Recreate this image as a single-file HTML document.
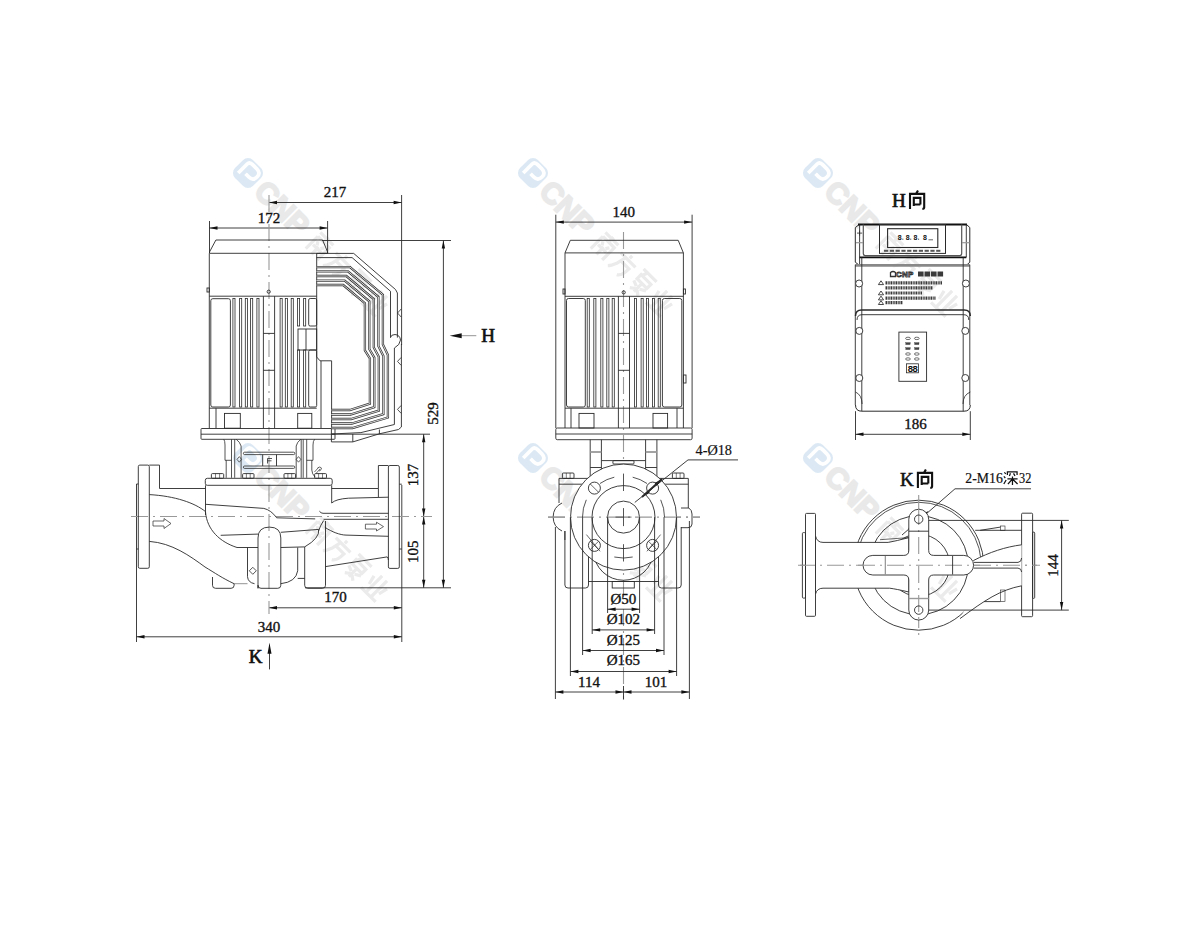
<!DOCTYPE html>
<html><head><meta charset="utf-8"><style>
html,body{margin:0;padding:0;background:#fff;overflow:hidden;}
svg{display:block;}
</style></head><body>
<svg width="1200" height="950" viewBox="0 0 1200 950">
<rect width="1200" height="950" fill="#fff"/>
<g transform="translate(248,173) rotate(45) scale(1.15)"><rect x="-11" y="-11" width="22" height="22" rx="6" fill="#dce9f4"/><path d="M-6,6 L-6,-5 Q-6,-8 -2,-8 L3,-8 Q8,-8 8,-3 Q8,2 3,2 L-1,2" fill="none" stroke="#fff" stroke-width="3.2"/><text x="15" y="9.5" font-family="Liberation Sans" font-weight="bold" font-size="26" fill="#e9e9e9" stroke="#e9e9e9" stroke-width="1.6">CNP</text><path transform="translate(79,-10)" d="M2,2 L18,2 M10,0 L10,5 M3,6 L17,6 L17,21 M3,6 L3,21 M6,9 L8,12 M14,9 L12,12 M5,14 L15,14 M10,12 L10,21" fill="none" stroke="#ebebeb" stroke-width="2.8"/><path transform="translate(102,-10)" d="M10,0 L10,3 M1,5 L19,5 M7,5 L5,14 Q3,19 1,21 M7,10 L16,10 Q16,19 12,21" fill="none" stroke="#ebebeb" stroke-width="2.8"/><path transform="translate(125,-10)" d="M2,1 L18,1 M7,1 L5,6 M4,6 L16,6 L16,11 L4,11 Z M10,12 L10,21 M3,14 L8,16 M17,13 L12,16 M5,21 L9,18 M15,21 L11,18" fill="none" stroke="#ebebeb" stroke-width="2.8"/><path transform="translate(148,-10)" d="M7,0 L7,19 M13,0 L13,19 M2,5 L4,13 M18,5 L16,13 M1,20 L19,20" fill="none" stroke="#ebebeb" stroke-width="2.8"/></g>
<g transform="translate(533,173) rotate(45) scale(1.15)"><rect x="-11" y="-11" width="22" height="22" rx="6" fill="#dce9f4"/><path d="M-6,6 L-6,-5 Q-6,-8 -2,-8 L3,-8 Q8,-8 8,-3 Q8,2 3,2 L-1,2" fill="none" stroke="#fff" stroke-width="3.2"/><text x="15" y="9.5" font-family="Liberation Sans" font-weight="bold" font-size="26" fill="#e9e9e9" stroke="#e9e9e9" stroke-width="1.6">CNP</text><path transform="translate(79,-10)" d="M2,2 L18,2 M10,0 L10,5 M3,6 L17,6 L17,21 M3,6 L3,21 M6,9 L8,12 M14,9 L12,12 M5,14 L15,14 M10,12 L10,21" fill="none" stroke="#ebebeb" stroke-width="2.8"/><path transform="translate(102,-10)" d="M10,0 L10,3 M1,5 L19,5 M7,5 L5,14 Q3,19 1,21 M7,10 L16,10 Q16,19 12,21" fill="none" stroke="#ebebeb" stroke-width="2.8"/><path transform="translate(125,-10)" d="M2,1 L18,1 M7,1 L5,6 M4,6 L16,6 L16,11 L4,11 Z M10,12 L10,21 M3,14 L8,16 M17,13 L12,16 M5,21 L9,18 M15,21 L11,18" fill="none" stroke="#ebebeb" stroke-width="2.8"/><path transform="translate(148,-10)" d="M7,0 L7,19 M13,0 L13,19 M2,5 L4,13 M18,5 L16,13 M1,20 L19,20" fill="none" stroke="#ebebeb" stroke-width="2.8"/></g>
<g transform="translate(818,173) rotate(45) scale(1.15)"><rect x="-11" y="-11" width="22" height="22" rx="6" fill="#dce9f4"/><path d="M-6,6 L-6,-5 Q-6,-8 -2,-8 L3,-8 Q8,-8 8,-3 Q8,2 3,2 L-1,2" fill="none" stroke="#fff" stroke-width="3.2"/><text x="15" y="9.5" font-family="Liberation Sans" font-weight="bold" font-size="26" fill="#e9e9e9" stroke="#e9e9e9" stroke-width="1.6">CNP</text><path transform="translate(79,-10)" d="M2,2 L18,2 M10,0 L10,5 M3,6 L17,6 L17,21 M3,6 L3,21 M6,9 L8,12 M14,9 L12,12 M5,14 L15,14 M10,12 L10,21" fill="none" stroke="#ebebeb" stroke-width="2.8"/><path transform="translate(102,-10)" d="M10,0 L10,3 M1,5 L19,5 M7,5 L5,14 Q3,19 1,21 M7,10 L16,10 Q16,19 12,21" fill="none" stroke="#ebebeb" stroke-width="2.8"/><path transform="translate(125,-10)" d="M2,1 L18,1 M7,1 L5,6 M4,6 L16,6 L16,11 L4,11 Z M10,12 L10,21 M3,14 L8,16 M17,13 L12,16 M5,21 L9,18 M15,21 L11,18" fill="none" stroke="#ebebeb" stroke-width="2.8"/><path transform="translate(148,-10)" d="M7,0 L7,19 M13,0 L13,19 M2,5 L4,13 M18,5 L16,13 M1,20 L19,20" fill="none" stroke="#ebebeb" stroke-width="2.8"/></g>
<g transform="translate(248,458) rotate(45) scale(1.15)"><rect x="-11" y="-11" width="22" height="22" rx="6" fill="#dce9f4"/><path d="M-6,6 L-6,-5 Q-6,-8 -2,-8 L3,-8 Q8,-8 8,-3 Q8,2 3,2 L-1,2" fill="none" stroke="#fff" stroke-width="3.2"/><text x="15" y="9.5" font-family="Liberation Sans" font-weight="bold" font-size="26" fill="#e9e9e9" stroke="#e9e9e9" stroke-width="1.6">CNP</text><path transform="translate(79,-10)" d="M2,2 L18,2 M10,0 L10,5 M3,6 L17,6 L17,21 M3,6 L3,21 M6,9 L8,12 M14,9 L12,12 M5,14 L15,14 M10,12 L10,21" fill="none" stroke="#ebebeb" stroke-width="2.8"/><path transform="translate(102,-10)" d="M10,0 L10,3 M1,5 L19,5 M7,5 L5,14 Q3,19 1,21 M7,10 L16,10 Q16,19 12,21" fill="none" stroke="#ebebeb" stroke-width="2.8"/><path transform="translate(125,-10)" d="M2,1 L18,1 M7,1 L5,6 M4,6 L16,6 L16,11 L4,11 Z M10,12 L10,21 M3,14 L8,16 M17,13 L12,16 M5,21 L9,18 M15,21 L11,18" fill="none" stroke="#ebebeb" stroke-width="2.8"/><path transform="translate(148,-10)" d="M7,0 L7,19 M13,0 L13,19 M2,5 L4,13 M18,5 L16,13 M1,20 L19,20" fill="none" stroke="#ebebeb" stroke-width="2.8"/></g>
<g transform="translate(533,458) rotate(45) scale(1.15)"><rect x="-11" y="-11" width="22" height="22" rx="6" fill="#dce9f4"/><path d="M-6,6 L-6,-5 Q-6,-8 -2,-8 L3,-8 Q8,-8 8,-3 Q8,2 3,2 L-1,2" fill="none" stroke="#fff" stroke-width="3.2"/><text x="15" y="9.5" font-family="Liberation Sans" font-weight="bold" font-size="26" fill="#e9e9e9" stroke="#e9e9e9" stroke-width="1.6">CNP</text><path transform="translate(79,-10)" d="M2,2 L18,2 M10,0 L10,5 M3,6 L17,6 L17,21 M3,6 L3,21 M6,9 L8,12 M14,9 L12,12 M5,14 L15,14 M10,12 L10,21" fill="none" stroke="#ebebeb" stroke-width="2.8"/><path transform="translate(102,-10)" d="M10,0 L10,3 M1,5 L19,5 M7,5 L5,14 Q3,19 1,21 M7,10 L16,10 Q16,19 12,21" fill="none" stroke="#ebebeb" stroke-width="2.8"/><path transform="translate(125,-10)" d="M2,1 L18,1 M7,1 L5,6 M4,6 L16,6 L16,11 L4,11 Z M10,12 L10,21 M3,14 L8,16 M17,13 L12,16 M5,21 L9,18 M15,21 L11,18" fill="none" stroke="#ebebeb" stroke-width="2.8"/><path transform="translate(148,-10)" d="M7,0 L7,19 M13,0 L13,19 M2,5 L4,13 M18,5 L16,13 M1,20 L19,20" fill="none" stroke="#ebebeb" stroke-width="2.8"/></g>
<g transform="translate(818,458) rotate(45) scale(1.15)"><rect x="-11" y="-11" width="22" height="22" rx="6" fill="#dce9f4"/><path d="M-6,6 L-6,-5 Q-6,-8 -2,-8 L3,-8 Q8,-8 8,-3 Q8,2 3,2 L-1,2" fill="none" stroke="#fff" stroke-width="3.2"/><text x="15" y="9.5" font-family="Liberation Sans" font-weight="bold" font-size="26" fill="#e9e9e9" stroke="#e9e9e9" stroke-width="1.6">CNP</text><path transform="translate(79,-10)" d="M2,2 L18,2 M10,0 L10,5 M3,6 L17,6 L17,21 M3,6 L3,21 M6,9 L8,12 M14,9 L12,12 M5,14 L15,14 M10,12 L10,21" fill="none" stroke="#ebebeb" stroke-width="2.8"/><path transform="translate(102,-10)" d="M10,0 L10,3 M1,5 L19,5 M7,5 L5,14 Q3,19 1,21 M7,10 L16,10 Q16,19 12,21" fill="none" stroke="#ebebeb" stroke-width="2.8"/><path transform="translate(125,-10)" d="M2,1 L18,1 M7,1 L5,6 M4,6 L16,6 L16,11 L4,11 Z M10,12 L10,21 M3,14 L8,16 M17,13 L12,16 M5,21 L9,18 M15,21 L11,18" fill="none" stroke="#ebebeb" stroke-width="2.8"/><path transform="translate(148,-10)" d="M7,0 L7,19 M13,0 L13,19 M2,5 L4,13 M18,5 L16,13 M1,20 L19,20" fill="none" stroke="#ebebeb" stroke-width="2.8"/></g>
<line x1="209.5" y1="221.0" x2="209.5" y2="253.0" stroke="#2a2a2a" stroke-width="0.9" />
<line x1="327.6" y1="221.0" x2="327.6" y2="253.0" stroke="#2a2a2a" stroke-width="0.9" />
<line x1="209.5" y1="228.0" x2="327.6" y2="228.0" stroke="#2a2a2a" stroke-width="0.9" />
<polygon points="209.5,228.0 217.5,226.3 217.5,229.7" fill="#111"/>
<polygon points="327.6,228.0 319.6,229.7 319.6,226.3" fill="#111"/>
<text x="269" y="222.5" font-family="Liberation Serif" font-size="15" text-anchor="middle" font-weight="normal" fill="#111" stroke="#111" stroke-width="0.35">172</text>
<line x1="401.6" y1="195.0" x2="401.6" y2="345.0" stroke="#2a2a2a" stroke-width="0.9" />
<line x1="269.0" y1="202.5" x2="401.6" y2="202.5" stroke="#2a2a2a" stroke-width="0.9" />
<polygon points="269.0,202.5 277.0,200.8 277.0,204.2" fill="#111"/>
<polygon points="401.6,202.5 393.6,204.2 393.6,200.8" fill="#111"/>
<text x="335" y="197" font-family="Liberation Serif" font-size="15" text-anchor="middle" font-weight="normal" fill="#111" stroke="#111" stroke-width="0.35">217</text>
<line x1="322.0" y1="240.5" x2="451.0" y2="240.5" stroke="#2a2a2a" stroke-width="0.9" />
<line x1="443.4" y1="240.5" x2="443.4" y2="587.8" stroke="#2a2a2a" stroke-width="0.9" />
<polygon points="443.4,240.5 445.1,248.5 441.7,248.5" fill="#111"/>
<polygon points="443.4,587.8 441.7,579.8 445.1,579.8" fill="#111"/>
<text x="438.5" y="413.6" font-family="Liberation Serif" font-size="15" text-anchor="middle" font-weight="normal" fill="#111" transform="rotate(-90 438.5 413.6)" stroke="#111" stroke-width="0.35">529</text>
<line x1="331.4" y1="434.2" x2="430.0" y2="434.2" stroke="#2a2a2a" stroke-width="0.9" />
<line x1="423.7" y1="434.2" x2="423.7" y2="587.8" stroke="#2a2a2a" stroke-width="0.9" />
<polygon points="423.7,434.2 425.4,442.2 422.0,442.2" fill="#111"/>
<polygon points="423.7,516.5 422.0,508.5 425.4,508.5" fill="#111"/>
<polygon points="423.7,516.5 425.4,524.5 422.0,524.5" fill="#111"/>
<polygon points="423.7,587.8 422.0,579.8 425.4,579.8" fill="#111"/>
<text x="418" y="475" font-family="Liberation Serif" font-size="15" text-anchor="middle" font-weight="normal" fill="#111" transform="rotate(-90 418 475)" stroke="#111" stroke-width="0.35">137</text>
<text x="418" y="551.8" font-family="Liberation Serif" font-size="15" text-anchor="middle" font-weight="normal" fill="#111" transform="rotate(-90 418 551.8)" stroke="#111" stroke-width="0.35">105</text>
<line x1="305.0" y1="587.8" x2="451.0" y2="587.8" stroke="#2a2a2a" stroke-width="0.9" />
<line x1="401.8" y1="485.0" x2="401.8" y2="642.0" stroke="#2a2a2a" stroke-width="0.9" />
<line x1="136.5" y1="484.0" x2="136.5" y2="642.0" stroke="#2a2a2a" stroke-width="0.9" />
<line x1="269.0" y1="607.8" x2="401.8" y2="607.8" stroke="#2a2a2a" stroke-width="0.9" />
<polygon points="269.0,607.8 277.0,606.1 277.0,609.5" fill="#111"/>
<polygon points="401.8,607.8 393.8,609.5 393.8,606.1" fill="#111"/>
<text x="335.4" y="602.2" font-family="Liberation Serif" font-size="15" text-anchor="middle" font-weight="normal" fill="#111" stroke="#111" stroke-width="0.35">170</text>
<line x1="136.5" y1="636.8" x2="401.8" y2="636.8" stroke="#2a2a2a" stroke-width="0.9" />
<polygon points="136.5,636.8 144.5,635.1 144.5,638.5" fill="#111"/>
<polygon points="401.8,636.8 393.8,638.5 393.8,635.1" fill="#111"/>
<text x="269" y="631.5" font-family="Liberation Serif" font-size="15" text-anchor="middle" font-weight="normal" fill="#111" stroke="#111" stroke-width="0.35">340</text>
<line x1="269.5" y1="645.0" x2="269.5" y2="669.4" stroke="#2a2a2a" stroke-width="0.9" />
<polygon points="269.5,642.8 271.5,653.8 267.5,653.8" fill="#111"/>
<text x="255.5" y="663.4" font-family="Liberation Serif" font-size="19" text-anchor="middle" font-weight="normal" fill="#111" stroke="#111" stroke-width="0.7">K</text>
<line x1="459.0" y1="335.7" x2="476.3" y2="335.7" stroke="#888" stroke-width="0.9" />
<polygon points="449.7,335.7 461.7,333.2 461.7,338.2" fill="#111"/>
<text x="488" y="341.6" font-family="Liberation Serif" font-size="19" text-anchor="middle" font-weight="normal" fill="#111" stroke="#111" stroke-width="0.7">H</text>
<line x1="269.0" y1="195.0" x2="269.0" y2="614.0" stroke="#999" stroke-width="1.1" stroke-dasharray="17 5 2 5"/>
<line x1="131.0" y1="516.5" x2="432.0" y2="516.5" stroke="#999" stroke-width="1.1" stroke-dasharray="17 5 2 5"/>
<polygon points="215.9,240.0 322.6,240.0 327.6,252.0 327.6,253.3 209.5,253.3 209.5,252.0" fill="none" stroke="#2a2a2a" stroke-width="0.9"/>
<polyline points="209.3,253.3 209.3,428.2" fill="none" stroke="#2a2a2a" stroke-width="0.9"/>
<polyline points="316.7,253.3 316.7,357.0 320.0,360.8 331.6,360.8 331.6,428.5" fill="none" stroke="#2a2a2a" stroke-width="0.9"/>
<line x1="321.0" y1="361.0" x2="321.0" y2="428.0" stroke="#2a2a2a" stroke-width="0.9" />
<line x1="209.3" y1="296.2" x2="316.7" y2="296.2" stroke="#2a2a2a" stroke-width="0.9" />
<line x1="209.3" y1="408.2" x2="316.7" y2="408.2" stroke="#2a2a2a" stroke-width="0.9" />
<rect x="207.0" y="288.0" width="2.3" height="4.0" rx="0" fill="none" stroke="#2a2a2a" stroke-width="0.9"/>
<circle cx="268.7" cy="291.7" r="1.6" fill="none" stroke="#2a2a2a" stroke-width="0.9" />
<rect x="210.8" y="298.7" width="19.6" height="108.3" rx="2" fill="none" stroke="#2a2a2a" stroke-width="0.9"/>
<rect x="232.9" y="298.5" width="2.1" height="108.5" rx="0" fill="none" stroke="#2a2a2a" stroke-width="0.8"/>
<rect x="239.6" y="298.5" width="2.1" height="108.5" rx="0" fill="none" stroke="#2a2a2a" stroke-width="0.8"/>
<rect x="245.3" y="298.5" width="2.1" height="108.5" rx="0" fill="none" stroke="#2a2a2a" stroke-width="0.8"/>
<rect x="250.6" y="298.5" width="2.1" height="108.5" rx="0" fill="none" stroke="#2a2a2a" stroke-width="0.8"/>
<rect x="256.9" y="298.5" width="2.1" height="108.5" rx="0" fill="none" stroke="#2a2a2a" stroke-width="0.8"/>
<rect x="280.1" y="298.5" width="2.1" height="108.5" rx="0" fill="none" stroke="#2a2a2a" stroke-width="0.8"/>
<rect x="285.3" y="298.5" width="2.1" height="108.5" rx="0" fill="none" stroke="#2a2a2a" stroke-width="0.8"/>
<rect x="291.2" y="298.5" width="2.1" height="108.5" rx="0" fill="none" stroke="#2a2a2a" stroke-width="0.8"/>
<rect x="297.5" y="298.5" width="2.1" height="27.5" rx="0" fill="none" stroke="#2a2a2a" stroke-width="0.8"/>
<rect x="297.5" y="350.0" width="2.1" height="57.0" rx="0" fill="none" stroke="#2a2a2a" stroke-width="0.8"/>
<rect x="303.6" y="298.5" width="2.1" height="27.5" rx="0" fill="none" stroke="#2a2a2a" stroke-width="0.8"/>
<rect x="303.6" y="350.0" width="2.1" height="57.0" rx="0" fill="none" stroke="#2a2a2a" stroke-width="0.8"/>
<rect x="308.7" y="298.5" width="8.0" height="27.5" rx="1.5" fill="none" stroke="#2a2a2a" stroke-width="0.9"/>
<rect x="308.7" y="350.0" width="8.0" height="57.0" rx="1.5" fill="none" stroke="#2a2a2a" stroke-width="0.9"/>
<rect x="298.0" y="329.0" width="18.7" height="21.0" rx="0" fill="none" stroke="#2a2a2a" stroke-width="0.9"/>
<line x1="306.0" y1="329.0" x2="306.0" y2="350.0" stroke="#2a2a2a" stroke-width="0.9" />
<line x1="263.4" y1="296.2" x2="263.4" y2="428.2" stroke="#2a2a2a" stroke-width="0.9" />
<line x1="274.6" y1="296.2" x2="274.6" y2="428.2" stroke="#2a2a2a" stroke-width="0.9" />
<line x1="263.4" y1="333.4" x2="274.6" y2="333.4" stroke="#2a2a2a" stroke-width="0.9" />
<line x1="263.4" y1="370.3" x2="274.6" y2="370.3" stroke="#2a2a2a" stroke-width="0.9" />
<rect x="224.5" y="413.4" width="15.8" height="14.8" rx="0" fill="none" stroke="#2a2a2a" stroke-width="0.9"/>
<rect x="297.7" y="413.4" width="14.1" height="14.8" rx="0" fill="none" stroke="#2a2a2a" stroke-width="0.9"/>
<line x1="216.0" y1="408.2" x2="216.0" y2="428.2" stroke="#2a2a2a" stroke-width="0.9" />
<rect x="201.0" y="428.5" width="134.0" height="10.8" rx="0.8" fill="none" stroke="#2a2a2a" stroke-width="0.9"/>
<line x1="201.0" y1="434.2" x2="335.0" y2="434.2" stroke="#2a2a2a" stroke-width="0.9" />
<polyline points="316.5,253.4 353.7,253.4 395.5,289.5 397.4,293.0 397.4,337.6" fill="none" stroke="#2a2a2a" stroke-width="0.9"/>
<polyline points="316.5,257.6 352.1,257.6 390.5,291.3 390.5,337.6" fill="none" stroke="#2a2a2a" stroke-width="0.9"/>
<path d="M390.5,337.6 Q391,334.5 395,334.5 Q400,335 400.5,340 Q400,345 394.4,348" fill="none" stroke="#2a2a2a" stroke-width="0.9"/>
<polyline points="401.4,344.0 401.4,427.0 398.5,429.5 379.4,433.8 352.8,441.9 331.4,441.9 331.4,428.0" fill="none" stroke="#2a2a2a" stroke-width="0.9"/>
<polyline points="394.4,348.0 394.4,424.5 360.9,432.6 331.4,434.0" fill="none" stroke="#2a2a2a" stroke-width="0.9"/>
<line x1="352.8" y1="434.0" x2="352.8" y2="441.9" stroke="#2a2a2a" stroke-width="0.9" />
<line x1="379.4" y1="429.5" x2="379.4" y2="434.0" stroke="#2a2a2a" stroke-width="0.9" />
<polyline points="316.5,285.0 343.2,285.0 364.9,303.2 364.9,350.4 369.9,358.5 369.9,403.7 349.9,410.0 331.4,410.0" fill="none" stroke="#333" stroke-width="2.3"/>
<polyline points="316.5,285.0 343.2,285.0 364.9,303.2 364.9,350.4 369.9,358.5 369.9,403.7 349.9,410.0 331.4,410.0" fill="none" stroke="#fff" stroke-width="0.8"/>
<polyline points="316.5,280.6 344.7,280.6 369.3,301.3 369.3,349.0 374.3,357.6 374.3,407.2 350.5,414.5 331.4,414.5" fill="none" stroke="#333" stroke-width="2.3"/>
<polyline points="316.5,280.6 344.7,280.6 369.3,301.3 369.3,349.0 374.3,357.6 374.3,407.2 350.5,414.5 331.4,414.5" fill="none" stroke="#fff" stroke-width="0.8"/>
<polyline points="316.5,276.0 346.3,276.0 373.8,299.1 373.8,347.5 378.8,356.8 378.8,410.7 351.1,419.0 331.4,419.0" fill="none" stroke="#333" stroke-width="2.3"/>
<polyline points="316.5,276.0 346.3,276.0 373.8,299.1 373.8,347.5 378.8,356.8 378.8,410.7 351.1,419.0 331.4,419.0" fill="none" stroke="#fff" stroke-width="0.8"/>
<polyline points="316.5,271.3 347.9,271.3 378.4,296.9 378.4,346.0 383.4,355.9 383.4,414.1 351.8,423.5 331.4,423.5" fill="none" stroke="#333" stroke-width="2.3"/>
<polyline points="316.5,271.3 347.9,271.3 378.4,296.9 378.4,346.0 383.4,355.9 383.4,414.1 351.8,423.5 331.4,423.5" fill="none" stroke="#fff" stroke-width="0.8"/>
<polyline points="316.5,267.1 350.0,267.1 382.9,294.7 382.9,344.6 387.9,355.0 387.9,417.5 352.5,428.0 331.4,428.0" fill="none" stroke="#333" stroke-width="2.3"/>
<polyline points="316.5,267.1 350.0,267.1 382.9,294.7 382.9,344.6 387.9,355.0 387.9,417.5 352.5,428.0 331.4,428.0" fill="none" stroke="#fff" stroke-width="0.8"/>
<path d="M401.2,309 L397.5,313 L401.2,317" fill="none" stroke="#2a2a2a" stroke-width="0.8"/>
<path d="M401.2,357.4 L397.5,361.4 L401.2,365.4" fill="none" stroke="#2a2a2a" stroke-width="0.8"/>
<path d="M401.2,405.4 L397.5,409.4 L401.2,413.4" fill="none" stroke="#2a2a2a" stroke-width="0.8"/>
<path d="M223.8,439.3 Q225,441 225,445 L225,460.3 L231.5,460.3 M226.2,460.3 L226.2,477.8" fill="none" stroke="#2a2a2a" stroke-width="0.8"/>
<line x1="231.5" y1="439.3" x2="231.5" y2="477.8" stroke="#2a2a2a" stroke-width="0.8" />
<line x1="234.7" y1="439.3" x2="234.7" y2="477.8" stroke="#2a2a2a" stroke-width="0.8" />
<path d="M236.2,439.3 Q240,442 241.1,446 L241.1,477.8" fill="none" stroke="#2a2a2a" stroke-width="0.8"/>
<path d="M296.2,477.8 L296.2,446 Q297,442 300.8,439.3" fill="none" stroke="#2a2a2a" stroke-width="0.8"/>
<line x1="301.2" y1="439.3" x2="301.2" y2="477.8" stroke="#2a2a2a" stroke-width="0.8" />
<line x1="303.2" y1="439.3" x2="303.2" y2="477.8" stroke="#2a2a2a" stroke-width="0.8" />
<line x1="306.7" y1="439.3" x2="306.7" y2="477.8" stroke="#2a2a2a" stroke-width="0.8" />
<path d="M314.6,439.3 Q313,441 313,445 L313,460.3 L306.7,460.3 M311.8,460.3 L311.8,470 Q312,474 315,477" fill="none" stroke="#2a2a2a" stroke-width="0.8"/>
<rect x="243.4" y="452.2" width="51.4" height="2.4" rx="1.2" fill="none" stroke="#2a2a2a" stroke-width="0.8"/>
<rect x="243.4" y="466.0" width="51.4" height="2.4" rx="1.2" fill="none" stroke="#2a2a2a" stroke-width="0.8"/>
<line x1="262.7" y1="454.6" x2="262.7" y2="466.0" stroke="#2a2a2a" stroke-width="0.9" />
<line x1="276.5" y1="454.6" x2="276.5" y2="466.0" stroke="#2a2a2a" stroke-width="0.9" />
<path d="M267.5,463.5 L267.5,458.5 L272,458.5 M267.5,460.8 L271.5,460.8" fill="none" stroke="#2a2a2a" stroke-width="0.8"/>
<path d="M239.3,456.6 L241.6,459.4 L239.3,462.2 L237,459.4 Z" fill="none" stroke="#2a2a2a" stroke-width="0.7"/>
<path d="M298.5,456.6 L300.8,459.4 L298.5,462.2 L296.2,459.4 Z" fill="none" stroke="#2a2a2a" stroke-width="0.7"/>
<path d="M314.5,472 L318.5,467.5 M316,473.5 L320,469 M317.5,468 Q320,466 321.5,468 Q321,471 319,471" fill="none" stroke="#2a2a2a" stroke-width="0.7"/>
<rect x="211.4" y="473.6" width="12.3" height="4.7" rx="1" fill="none" stroke="#2a2a2a" stroke-width="0.9"/>
<line x1="215.5" y1="473.6" x2="215.5" y2="478.3" stroke="#2a2a2a" stroke-width="0.6" />
<line x1="219.6" y1="473.6" x2="219.6" y2="478.3" stroke="#2a2a2a" stroke-width="0.6" />
<rect x="242.6" y="473.6" width="11.4" height="4.7" rx="1" fill="none" stroke="#2a2a2a" stroke-width="0.9"/>
<line x1="246.4" y1="473.6" x2="246.4" y2="478.3" stroke="#2a2a2a" stroke-width="0.6" />
<line x1="250.2" y1="473.6" x2="250.2" y2="478.3" stroke="#2a2a2a" stroke-width="0.6" />
<rect x="284.0" y="473.6" width="11.6" height="4.7" rx="1" fill="none" stroke="#2a2a2a" stroke-width="0.9"/>
<line x1="287.9" y1="473.6" x2="287.9" y2="478.3" stroke="#2a2a2a" stroke-width="0.6" />
<line x1="291.7" y1="473.6" x2="291.7" y2="478.3" stroke="#2a2a2a" stroke-width="0.6" />
<rect x="314.6" y="473.6" width="11.9" height="4.7" rx="1" fill="none" stroke="#2a2a2a" stroke-width="0.9"/>
<line x1="318.6" y1="473.6" x2="318.6" y2="478.3" stroke="#2a2a2a" stroke-width="0.6" />
<line x1="322.5" y1="473.6" x2="322.5" y2="478.3" stroke="#2a2a2a" stroke-width="0.6" />
<rect x="205.3" y="478.3" width="126.9" height="7.0" rx="2" fill="none" stroke="#2a2a2a" stroke-width="0.9"/>
<line x1="205.5" y1="485.3" x2="205.5" y2="515.0" stroke="#2a2a2a" stroke-width="0.9" />
<line x1="331.7" y1="485.3" x2="331.7" y2="503.0" stroke="#2a2a2a" stroke-width="0.9" />
<path d="M205.5,504.3 L263.8,508.4 Q271,510 276.7,517.8 L315.2,518.9" fill="none" stroke="#2a2a2a" stroke-width="0.9"/>
<path d="M205.5,512 C207,530 220,542 237,547.5 L258,547.5" fill="none" stroke="#2a2a2a" stroke-width="0.9"/>
<path d="M220.7,535.3 L258,534.1 M280.8,532.3 L318.7,529.4" fill="none" stroke="#2a2a2a" stroke-width="0.9"/>
<path d="M318.7,529.4 Q320,538 304.7,546.9 L280.8,547.5" fill="none" stroke="#2a2a2a" stroke-width="0.9"/>
<path d="M247.5,547.5 L247.5,576.7 Q248,582.5 254.5,583.7" fill="none" stroke="#2a2a2a" stroke-width="0.9"/>
<path d="M252.8,567.3 L256.3,570.8 L252.8,574.3 L249.3,570.8 Z" fill="none" stroke="#2a2a2a" stroke-width="0.8"/>
<path d="M258,588.3 L258,538 Q258,527.1 269.4,527.1 Q280.8,527.1 280.8,538 L280.8,585.3 Q280.8,588.3 277.8,588.3 L261,588.3 Q258,588.3 258,585.3 Z" fill="none" stroke="#2a2a2a" stroke-width="0.9"/>
<path d="M297.7,547.5 L297.7,570.8 Q296,582 280.8,583.7" fill="none" stroke="#2a2a2a" stroke-width="0.9"/>
<line x1="297.7" y1="578.4" x2="304.7" y2="578.4" stroke="#2a2a2a" stroke-width="0.9" />
<path d="M304.7,546.9 L304.7,585.3 Q304.7,588.3 307.7,588.3 L322.5,588.3 Q325.5,588.3 325.5,585.3 L325.5,521" fill="none" stroke="#2a2a2a" stroke-width="0.9"/>
<line x1="234.1" y1="583.7" x2="247.5" y2="583.7" stroke="#888" stroke-width="0.9" />
<rect x="138.3" y="465.1" width="11.0" height="103.2" rx="1.5" fill="none" stroke="#2a2a2a" stroke-width="0.9"/>
<polyline points="149.3,465.1 159.5,465.1 159.5,488.5 205.5,488.5" fill="none" stroke="#2a2a2a" stroke-width="0.9"/>
<line x1="136.5" y1="484.0" x2="138.3" y2="484.0" stroke="#2a2a2a" stroke-width="0.9" />
<line x1="136.5" y1="549.0" x2="138.3" y2="549.0" stroke="#2a2a2a" stroke-width="0.9" />
<path d="M149.3,494.6 C175,496 195,503 205.5,511.6" fill="none" stroke="#2a2a2a" stroke-width="0.9"/>
<path d="M149.3,541.4 C172,543 190,556 205,567 C215,573 222,578 234.1,583.7" fill="none" stroke="#2a2a2a" stroke-width="0.9"/>
<path d="M212.5,577 L212.5,585.3 Q212.5,588.3 215.5,588.3 L231.1,588.3 Q234.1,588.3 234.1,585.3 L234.1,583.7" fill="none" stroke="#2a2a2a" stroke-width="0.9"/>
<path d="M153,521 L164,521 L164,518.5 L171,523.5 L164,528.5 L164,526 L153,526 Z" fill="none" stroke="#2a2a2a" stroke-width="0.7"/>
<rect x="388.4" y="465.5" width="10.9" height="102.9" rx="1.5" fill="none" stroke="#2a2a2a" stroke-width="0.9"/>
<polyline points="331.7,488.5 378.4,488.5 378.4,465.5 388.4,465.5" fill="none" stroke="#2a2a2a" stroke-width="0.9"/>
<line x1="378.4" y1="488.5" x2="378.4" y2="497.2" stroke="#2a2a2a" stroke-width="0.9" />
<line x1="399.3" y1="484.2" x2="401.8" y2="484.2" stroke="#2a2a2a" stroke-width="0.9" />
<line x1="399.3" y1="549.0" x2="401.8" y2="549.0" stroke="#2a2a2a" stroke-width="0.9" />
<path d="M331.7,503 Q336,499 348.4,498.2 L388.4,497.2" fill="none" stroke="#2a2a2a" stroke-width="0.9"/>
<path d="M319.4,511.2 Q321,513.3 323,513.3 L388.4,513.3" fill="none" stroke="#2a2a2a" stroke-width="0.9"/>
<line x1="323.6" y1="519.3" x2="388.4" y2="519.3" stroke="#2a2a2a" stroke-width="0.9" />
<path d="M323.6,520.6 Q320,526 318.7,530.8" fill="none" stroke="#2a2a2a" stroke-width="0.9"/>
<path d="M324.8,527.2 C332,532 340,535 346,535.1 L388.4,536.3" fill="none" stroke="#2a2a2a" stroke-width="0.9"/>
<path d="M325.5,566.6 L387.2,556.9 Q388.4,558 388.4,560" fill="none" stroke="#2a2a2a" stroke-width="0.9"/>
<path d="M365.4,524.2 L376.5,524.2 L376.5,522.2 L383.5,526.6 L376.5,531 L376.5,529 L365.4,529 Z" fill="none" stroke="#2a2a2a" stroke-width="0.7"/>
<line x1="555.8" y1="214.7" x2="555.8" y2="428.0" stroke="#2a2a2a" stroke-width="0.9" />
<line x1="692.1" y1="214.7" x2="692.1" y2="428.0" stroke="#2a2a2a" stroke-width="0.9" />
<line x1="555.8" y1="222.1" x2="692.1" y2="222.1" stroke="#2a2a2a" stroke-width="0.9" />
<polygon points="555.8,222.1 563.8,220.4 563.8,223.8" fill="#111"/>
<polygon points="692.1,222.1 684.1,223.8 684.1,220.4" fill="#111"/>
<text x="623.7" y="216.6" font-family="Liberation Serif" font-size="15" text-anchor="middle" font-weight="normal" fill="#111" stroke="#111" stroke-width="0.35">140</text>
<line x1="623.5" y1="232.0" x2="623.5" y2="700.0" stroke="#999" stroke-width="1.1" stroke-dasharray="17 5 2 5"/>
<line x1="548.0" y1="517.1" x2="700.0" y2="517.1" stroke="#999" stroke-width="1.1" stroke-dasharray="17 5 2 5"/>
<polygon points="570.3,240.3 678.2,240.3 683.4,252.9 565.0,252.9" fill="none" stroke="#2a2a2a" stroke-width="0.9"/>
<line x1="565.0" y1="252.9" x2="565.0" y2="428.0" stroke="#2a2a2a" stroke-width="0.9" />
<line x1="683.4" y1="252.9" x2="683.4" y2="428.0" stroke="#2a2a2a" stroke-width="0.9" />
<line x1="565.0" y1="296.3" x2="683.4" y2="296.3" stroke="#2a2a2a" stroke-width="0.9" />
<line x1="565.0" y1="408.2" x2="683.4" y2="408.2" stroke="#2a2a2a" stroke-width="0.9" />
<rect x="563.0" y="289.0" width="2.0" height="5.0" rx="0" fill="none" stroke="#2a2a2a" stroke-width="0.9"/>
<rect x="683.4" y="289.0" width="2.0" height="5.0" rx="0" fill="none" stroke="#2a2a2a" stroke-width="0.9"/>
<rect x="683.4" y="375.0" width="2.6" height="8.0" rx="0" fill="none" stroke="#2a2a2a" stroke-width="0.9"/>
<circle cx="623.7" cy="292.4" r="1.6" fill="none" stroke="#2a2a2a" stroke-width="0.9" />
<rect x="566.5" y="298.5" width="18.8" height="108.5" rx="2" fill="none" stroke="#2a2a2a" stroke-width="0.9"/>
<rect x="662.4" y="298.5" width="19.4" height="108.5" rx="2" fill="none" stroke="#2a2a2a" stroke-width="0.9"/>
<rect x="587.2" y="298.5" width="2.1" height="108.5" rx="0" fill="none" stroke="#2a2a2a" stroke-width="0.8"/>
<rect x="593.8" y="298.5" width="2.1" height="108.5" rx="0" fill="none" stroke="#2a2a2a" stroke-width="0.8"/>
<rect x="600.8" y="298.5" width="2.1" height="108.5" rx="0" fill="none" stroke="#2a2a2a" stroke-width="0.8"/>
<rect x="606.8" y="298.5" width="2.1" height="108.5" rx="0" fill="none" stroke="#2a2a2a" stroke-width="0.8"/>
<rect x="612.2" y="298.5" width="2.1" height="108.5" rx="0" fill="none" stroke="#2a2a2a" stroke-width="0.8"/>
<rect x="634.5" y="298.5" width="2.1" height="108.5" rx="0" fill="none" stroke="#2a2a2a" stroke-width="0.8"/>
<rect x="641.1" y="298.5" width="2.1" height="108.5" rx="0" fill="none" stroke="#2a2a2a" stroke-width="0.8"/>
<rect x="646.4" y="298.5" width="2.1" height="108.5" rx="0" fill="none" stroke="#2a2a2a" stroke-width="0.8"/>
<rect x="652.4" y="298.5" width="2.1" height="108.5" rx="0" fill="none" stroke="#2a2a2a" stroke-width="0.8"/>
<rect x="658.2" y="298.5" width="2.1" height="108.5" rx="0" fill="none" stroke="#2a2a2a" stroke-width="0.8"/>
<line x1="618.4" y1="296.3" x2="618.4" y2="428.0" stroke="#2a2a2a" stroke-width="0.9" />
<line x1="629.5" y1="296.3" x2="629.5" y2="428.0" stroke="#2a2a2a" stroke-width="0.9" />
<line x1="618.4" y1="333.4" x2="629.5" y2="333.4" stroke="#2a2a2a" stroke-width="0.9" />
<line x1="618.4" y1="370.3" x2="629.5" y2="370.3" stroke="#2a2a2a" stroke-width="0.9" />
<rect x="579.0" y="413.4" width="15.0" height="14.6" rx="0" fill="none" stroke="#2a2a2a" stroke-width="0.9"/>
<rect x="653.0" y="413.4" width="14.6" height="14.6" rx="0" fill="none" stroke="#2a2a2a" stroke-width="0.9"/>
<line x1="571.0" y1="408.2" x2="571.0" y2="428.0" stroke="#2a2a2a" stroke-width="0.9" />
<line x1="677.0" y1="408.2" x2="677.0" y2="428.0" stroke="#2a2a2a" stroke-width="0.9" />
<rect x="555.8" y="428.0" width="136.3" height="11.7" rx="1.5" fill="none" stroke="#2a2a2a" stroke-width="0.9"/>
<line x1="555.8" y1="434.0" x2="692.1" y2="434.0" stroke="#2a2a2a" stroke-width="0.9" />
<line x1="590.2" y1="439.7" x2="590.2" y2="478.4" stroke="#2a2a2a" stroke-width="0.9" />
<line x1="601.4" y1="439.7" x2="601.4" y2="478.4" stroke="#2a2a2a" stroke-width="0.9" />
<line x1="645.6" y1="439.7" x2="645.6" y2="478.4" stroke="#2a2a2a" stroke-width="0.9" />
<line x1="656.9" y1="439.7" x2="656.9" y2="478.4" stroke="#2a2a2a" stroke-width="0.9" />
<line x1="590.2" y1="452.0" x2="601.4" y2="452.0" stroke="#999" stroke-width="1.8" />
<line x1="645.6" y1="452.0" x2="656.9" y2="452.0" stroke="#999" stroke-width="1.8" />
<line x1="590.2" y1="467.5" x2="601.4" y2="467.5" stroke="#2a2a2a" stroke-width="0.9" />
<line x1="645.6" y1="467.5" x2="656.9" y2="467.5" stroke="#2a2a2a" stroke-width="0.9" />
<line x1="601.6" y1="460.6" x2="645.5" y2="460.6" stroke="#2a2a2a" stroke-width="0.9" />
<rect x="612.9" y="460.6" width="21.1" height="3.4" rx="1" fill="none" stroke="#2a2a2a" stroke-width="0.9"/>
<rect x="562.4" y="473.0" width="11.6" height="5.4" rx="1" fill="none" stroke="#2a2a2a" stroke-width="0.9"/>
<line x1="566.3" y1="473.0" x2="566.3" y2="478.4" stroke="#2a2a2a" stroke-width="0.6" />
<line x1="570.1" y1="473.0" x2="570.1" y2="478.4" stroke="#2a2a2a" stroke-width="0.6" />
<rect x="672.4" y="473.0" width="11.6" height="5.4" rx="1" fill="none" stroke="#2a2a2a" stroke-width="0.9"/>
<line x1="676.3" y1="473.0" x2="676.3" y2="478.4" stroke="#2a2a2a" stroke-width="0.6" />
<line x1="680.1" y1="473.0" x2="680.1" y2="478.4" stroke="#2a2a2a" stroke-width="0.6" />
<polyline points="559.0,503.0 559.0,478.4 688.3,478.4 688.3,508.0" fill="none" stroke="#2a2a2a" stroke-width="0.9"/>
<line x1="559.0" y1="484.2" x2="688.3" y2="484.2" stroke="#2a2a2a" stroke-width="0.9" />
<path d="M562,503 A15.5,15.5 0 0 0 562,531" fill="none" stroke="#2a2a2a" stroke-width="0.9"/>
<path d="M681,508 L688.8,508 Q692,510 692,514 L692,524 Q692,527.7 688,527.7 L681,527.7" fill="none" stroke="#2a2a2a" stroke-width="0.9"/>
<line x1="564.9" y1="531.0" x2="564.9" y2="540.0" stroke="#2a2a2a" stroke-width="0.9" />
<path d="M593.5,552 A30,30 0 0 0 653.4,552" fill="none" stroke="#2a2a2a" stroke-width="0.9"/>
<line x1="588.5" y1="581.5" x2="658.5" y2="581.5" stroke="#2a2a2a" stroke-width="0.9" />
<path d="M564.9,531 L564.9,585 Q564.9,588 568,588 L585.5,588 Q588.5,588 588.5,585 L588.5,556" fill="none" stroke="#2a2a2a" stroke-width="0.9"/>
<path d="M658.5,556 L658.5,585 Q658.5,588 661.5,588 L678,588 Q681.2,588 681.2,585 L681.2,527" fill="none" stroke="#2a2a2a" stroke-width="0.9"/>
<rect x="612.2" y="581.5" width="22.1" height="6.5" rx="0" fill="none" stroke="#2a2a2a" stroke-width="0.9"/>
<circle cx="623.5" cy="517.1" r="53.0" fill="#fff" stroke="#2a2a2a" stroke-width="0.9" />
<circle cx="623.5" cy="517.1" r="31.5" fill="none" stroke="#2a2a2a" stroke-width="0.9" />
<circle cx="623.5" cy="517.1" r="16.0" fill="none" stroke="#2a2a2a" stroke-width="0.9" />
<line x1="548.0" y1="517.1" x2="700.0" y2="517.1" stroke="#999" stroke-width="1.1" stroke-dasharray="17 5 2 5"/>
<line x1="623.5" y1="508.1" x2="623.5" y2="526.1" stroke="#2a2a2a" stroke-width="0.8" />
<line x1="615.5" y1="517.1" x2="631.5" y2="517.1" stroke="#2a2a2a" stroke-width="0.7" />
<line x1="623.5" y1="473.6" x2="623.5" y2="491.0" stroke="#2a2a2a" stroke-width="0.8" />
<line x1="623.5" y1="544.2" x2="623.5" y2="561.5" stroke="#2a2a2a" stroke-width="0.8" />
<circle cx="594.4" cy="488.1" r="6.0" fill="none" stroke="#2a2a2a" stroke-width="0.9" />
<line x1="590.2" y1="483.9" x2="598.6" y2="492.3" stroke="#2a2a2a" stroke-width="0.7" />
<circle cx="652.6" cy="488.1" r="6.0" fill="none" stroke="#2a2a2a" stroke-width="0.9" />
<line x1="648.4" y1="492.3" x2="656.8" y2="483.9" stroke="#2a2a2a" stroke-width="0.7" />
<circle cx="594.4" cy="545.4" r="6.0" fill="none" stroke="#2a2a2a" stroke-width="0.9" />
<line x1="590.2" y1="541.2" x2="598.6" y2="549.6" stroke="#2a2a2a" stroke-width="0.7" />
<line x1="590.2" y1="549.6" x2="598.6" y2="541.2" stroke="#2a2a2a" stroke-width="0.7" />
<line x1="586.4" y1="534.6" x2="600.1" y2="551.3" stroke="#2a2a2a" stroke-width="0.7" />
<circle cx="652.6" cy="545.4" r="6.0" fill="none" stroke="#2a2a2a" stroke-width="0.9" />
<line x1="648.4" y1="541.2" x2="656.8" y2="549.6" stroke="#2a2a2a" stroke-width="0.7" />
<line x1="648.4" y1="549.6" x2="656.8" y2="541.2" stroke="#2a2a2a" stroke-width="0.7" />
<line x1="660.6" y1="534.6" x2="646.9" y2="551.3" stroke="#2a2a2a" stroke-width="0.7" />
<path d="M600.0,483.5 A41,41 0 0 1 614.3,477.2" fill="none" stroke="#2a2a2a" stroke-width="0.8"/>
<path d="M632.7,477.2 A41,41 0 0 1 647.0,483.5" fill="none" stroke="#2a2a2a" stroke-width="0.8"/>
<path d="M582.5,517.1 A41,41 0 0 1 586.3,499.8" fill="none" stroke="#2a2a2a" stroke-width="0.8"/>
<path d="M660.7,499.8 A41,41 0 0 1 664.5,517.1" fill="none" stroke="#2a2a2a" stroke-width="0.8"/>
<path d="M632.7,557.0 A41,41 0 0 1 614.3,557.0" fill="none" stroke="#2a2a2a" stroke-width="0.8"/>
<line x1="607.6" y1="517.1" x2="607.6" y2="613.0" stroke="#2a2a2a" stroke-width="0.9" />
<line x1="639.6" y1="517.1" x2="639.6" y2="613.0" stroke="#2a2a2a" stroke-width="0.9" />
<line x1="607.6" y1="609.2" x2="639.6" y2="609.2" stroke="#2a2a2a" stroke-width="0.9" />
<polygon points="607.6,609.2 615.6,607.5 615.6,610.9" fill="#111"/>
<polygon points="639.6,609.2 631.6,610.9 631.6,607.5" fill="#111"/>
<text x="623.3" y="603.5" font-family="Liberation Serif" font-size="15" text-anchor="middle" font-weight="normal" fill="#111" stroke="#111" stroke-width="0.35">Ø50</text>
<line x1="592.2" y1="517.1" x2="592.2" y2="634.0" stroke="#2a2a2a" stroke-width="0.9" />
<line x1="654.6" y1="517.1" x2="654.6" y2="634.0" stroke="#2a2a2a" stroke-width="0.9" />
<line x1="592.2" y1="629.9" x2="654.6" y2="629.9" stroke="#2a2a2a" stroke-width="0.9" />
<polygon points="592.2,629.9 600.2,628.2 600.2,631.6" fill="#111"/>
<polygon points="654.6,629.9 646.6,631.6 646.6,628.2" fill="#111"/>
<text x="623.3" y="624.1" font-family="Liberation Serif" font-size="15" text-anchor="middle" font-weight="normal" fill="#111" stroke="#111" stroke-width="0.35">Ø102</text>
<line x1="582.6" y1="517.1" x2="582.6" y2="655.0" stroke="#2a2a2a" stroke-width="0.9" />
<line x1="664.0" y1="517.1" x2="664.0" y2="655.0" stroke="#2a2a2a" stroke-width="0.9" />
<line x1="582.6" y1="650.5" x2="664.0" y2="650.5" stroke="#2a2a2a" stroke-width="0.9" />
<polygon points="582.6,650.5 590.6,648.8 590.6,652.2" fill="#111"/>
<polygon points="664.0,650.5 656.0,652.2 656.0,648.8" fill="#111"/>
<text x="623.3" y="644.7" font-family="Liberation Serif" font-size="15" text-anchor="middle" font-weight="normal" fill="#111" stroke="#111" stroke-width="0.35">Ø125</text>
<line x1="570.4" y1="517.1" x2="570.4" y2="676.0" stroke="#2a2a2a" stroke-width="0.9" />
<line x1="676.6" y1="517.1" x2="676.6" y2="676.0" stroke="#2a2a2a" stroke-width="0.9" />
<line x1="570.4" y1="671.5" x2="676.6" y2="671.5" stroke="#2a2a2a" stroke-width="0.9" />
<polygon points="570.4,671.5 578.4,669.8 578.4,673.2" fill="#111"/>
<polygon points="676.6,671.5 668.6,673.2 668.6,669.8" fill="#111"/>
<text x="623.3" y="665.3" font-family="Liberation Serif" font-size="15" text-anchor="middle" font-weight="normal" fill="#111" stroke="#111" stroke-width="0.35">Ø165</text>
<line x1="555.4" y1="527.0" x2="555.4" y2="699.0" stroke="#2a2a2a" stroke-width="0.9" />
<line x1="689.4" y1="521.0" x2="689.4" y2="699.0" stroke="#2a2a2a" stroke-width="0.9" />
<line x1="623.5" y1="686.0" x2="623.5" y2="699.0" stroke="#2a2a2a" stroke-width="0.9" />
<line x1="555.4" y1="692.0" x2="689.4" y2="692.0" stroke="#2a2a2a" stroke-width="0.9" />
<polygon points="555.4,692.0 563.4,690.3 563.4,693.7" fill="#111"/>
<polygon points="623.5,692.0 615.5,693.7 615.5,690.3" fill="#111"/>
<polygon points="623.5,692.0 631.5,690.3 631.5,693.7" fill="#111"/>
<polygon points="689.4,692.0 681.4,693.7 681.4,690.3" fill="#111"/>
<text x="589" y="686.7" font-family="Liberation Serif" font-size="15" text-anchor="middle" font-weight="normal" fill="#111" stroke="#111" stroke-width="0.35">114</text>
<text x="656.1" y="686.7" font-family="Liberation Serif" font-size="15" text-anchor="middle" font-weight="normal" fill="#111" stroke="#111" stroke-width="0.35">101</text>
<polyline points="634.8,502.4 688.0,459.9 738.0,459.9" fill="none" stroke="#2a2a2a" stroke-width="0.9"/>
<polygon points="641.6,497.3 647.6,490.4 649.6,493.0" fill="#111"/>
<polygon points="662.7,478.8 656.7,485.7 654.7,483.1" fill="#111"/>
<line x1="642.0" y1="497.0" x2="662.0" y2="479.0" stroke="#2a2a2a" stroke-width="1.8" />
<text x="695.6" y="454.6" font-family="Liberation Serif" font-size="15" text-anchor="start" font-weight="normal" fill="#111" stroke="#111" stroke-width="0.2" textLength="36.4" lengthAdjust="spacingAndGlyphs">4-Ø18</text>
<text x="892" y="207.2" font-family="Liberation Serif" font-size="19" text-anchor="start" font-weight="normal" fill="#111" stroke="#111" stroke-width="0.7">H</text>
<path d="M918,190.5 L916,193.9 M910,208.9 L910,193.9 L924.2,193.9 L924.2,207.5 Q924.2,208.9 922.3,208.70000000000002 M913.8,205.9 L913.8,197.9 L920.4,197.9 L920.4,204.5 M913.8,204.5 L920.4,204.5" fill="none" stroke="#111" stroke-width="2.1"/>
<path d="M859.2,224.5 L966.5,224.5 L969.8,227.5 L969.8,262.2 L966.5,265.2 L859.2,265.2 L855.3,262.2 L855.3,227.6 Z" fill="none" stroke="#2a2a2a" stroke-width="1.0"/>
<line x1="858.0" y1="224.5" x2="967.0" y2="224.5" stroke="#111" stroke-width="2.2" />
<line x1="859.6" y1="224.5" x2="859.6" y2="265.0" stroke="#2a2a2a" stroke-width="0.9" />
<line x1="966.3" y1="224.5" x2="966.3" y2="257.4" stroke="#2a2a2a" stroke-width="0.9" />
<path d="M863.3,224.5 L863.3,253.6 Q863.3,255.6 865.3,255.6 L959.7,255.6 Q961.7,255.6 961.7,253.6 L961.7,224.5" fill="none" stroke="#555" stroke-width="1.2"/>
<line x1="859.6" y1="257.4" x2="966.3" y2="257.4" stroke="#111" stroke-width="1.7" />
<line x1="855.3" y1="265.4" x2="969.8" y2="265.4" stroke="#888" stroke-width="2.6" />
<rect x="879.5" y="224.5" width="66.0" height="28.9" rx="0" fill="none" stroke="#2a2a2a" stroke-width="1.0"/>
<rect x="887.6" y="228.7" width="50.2" height="18.8" rx="0" fill="none" stroke="#2a2a2a" stroke-width="1.1"/>
<text x="899.7" y="240" font-family="Liberation Sans" font-size="7" text-anchor="middle" font-weight="bold" fill="#111" >8</text>
<rect x="902.4" y="238.7" width="0.9" height="1.0" rx="0" fill="#222" stroke="#2a2a2a" stroke-width="0"/>
<text x="907.6" y="240" font-family="Liberation Sans" font-size="7" text-anchor="middle" font-weight="bold" fill="#111" >8</text>
<rect x="910.3" y="238.7" width="0.9" height="1.0" rx="0" fill="#222" stroke="#2a2a2a" stroke-width="0"/>
<text x="915.5" y="240" font-family="Liberation Sans" font-size="7" text-anchor="middle" font-weight="bold" fill="#111" >8</text>
<rect x="918.2" y="238.7" width="0.9" height="1.0" rx="0" fill="#222" stroke="#2a2a2a" stroke-width="0"/>
<text x="925" y="240" font-family="Liberation Sans" font-size="7" text-anchor="middle" font-weight="bold" fill="#111" >8</text>
<rect x="928.5" y="239.3" width="4.5" height="1.0" rx="0" fill="#666" stroke="#2a2a2a" stroke-width="0"/>
<rect x="884.0" y="249.8" width="4.2" height="2.0" rx="0" fill="#555" stroke="#2a2a2a" stroke-width="0"/>
<rect x="889.8" y="249.8" width="4.2" height="2.0" rx="0" fill="#555" stroke="#2a2a2a" stroke-width="0"/>
<rect x="895.6" y="249.8" width="4.2" height="2.0" rx="0" fill="#555" stroke="#2a2a2a" stroke-width="0"/>
<rect x="901.4" y="249.8" width="4.2" height="2.0" rx="0" fill="#555" stroke="#2a2a2a" stroke-width="0"/>
<rect x="907.2" y="249.8" width="4.2" height="2.0" rx="0" fill="#555" stroke="#2a2a2a" stroke-width="0"/>
<rect x="913.0" y="249.8" width="4.2" height="2.0" rx="0" fill="#555" stroke="#2a2a2a" stroke-width="0"/>
<rect x="918.8" y="249.8" width="4.2" height="2.0" rx="0" fill="#555" stroke="#2a2a2a" stroke-width="0"/>
<rect x="924.6" y="249.8" width="4.2" height="2.0" rx="0" fill="#555" stroke="#2a2a2a" stroke-width="0"/>
<rect x="930.4" y="249.8" width="4.2" height="2.0" rx="0" fill="#555" stroke="#2a2a2a" stroke-width="0"/>
<rect x="936.2" y="249.8" width="4.2" height="2.0" rx="0" fill="#555" stroke="#2a2a2a" stroke-width="0"/>
<line x1="859.6" y1="230.6" x2="859.6" y2="235.6" stroke="#2a2a2a" stroke-width="0.8" />
<line x1="857.0" y1="233.1" x2="862.2" y2="233.1" stroke="#2a2a2a" stroke-width="0.8" />
<line x1="856.0" y1="242.7" x2="863.0" y2="242.7" stroke="#999" stroke-width="1.2" />
<line x1="962.0" y1="242.7" x2="969.5" y2="242.7" stroke="#999" stroke-width="1.2" />
<line x1="855.3" y1="264.7" x2="855.3" y2="405.0" stroke="#2a2a2a" stroke-width="0.9" />
<line x1="969.8" y1="264.7" x2="969.8" y2="405.0" stroke="#2a2a2a" stroke-width="0.9" />
<line x1="861.8" y1="257.4" x2="861.8" y2="411.2" stroke="#2a2a2a" stroke-width="0.9" />
<line x1="963.2" y1="257.4" x2="963.2" y2="411.2" stroke="#2a2a2a" stroke-width="0.9" />
<path d="M855.5,405 Q855.5,411.2 861.7,411.2 L964.1,411.2 Q970.3,411.2 970.3,405" fill="none" stroke="#2a2a2a" stroke-width="1.0"/>
<path d="M855.5,316 Q855.5,310 861.5,310 L964.3,310 Q970.3,310 970.3,316" fill="none" stroke="#2a2a2a" stroke-width="1.5"/>
<path d="M857,320 Q857,314.7 862,314.7 L963.8,314.7 Q968.8,314.7 968.8,320" fill="none" stroke="#2a2a2a" stroke-width="0.9"/>
<path d="M855.5,392 Q862,395 862.1,404" fill="none" stroke="#2a2a2a" stroke-width="0.8"/>
<path d="M970.3,392 Q963,395 963,404" fill="none" stroke="#2a2a2a" stroke-width="0.8"/>
<circle cx="859.1" cy="283.5" r="3.5" fill="#fff" stroke="#2a2a2a" stroke-width="0.9" />
<circle cx="965.9" cy="283.5" r="3.5" fill="#fff" stroke="#2a2a2a" stroke-width="0.9" />
<circle cx="859.3" cy="330.9" r="3.5" fill="#fff" stroke="#2a2a2a" stroke-width="0.9" />
<circle cx="965.3" cy="330.9" r="3.5" fill="#fff" stroke="#2a2a2a" stroke-width="0.9" />
<circle cx="859.3" cy="378.0" r="3.5" fill="#fff" stroke="#2a2a2a" stroke-width="0.9" />
<circle cx="965.3" cy="378.0" r="3.5" fill="#fff" stroke="#2a2a2a" stroke-width="0.9" />
<path d="M890.5,276.5 L890.5,272.5 Q893,270.5 895.5,272.5 L895.5,276.5 Z" fill="none" stroke="#333" stroke-width="1.3"/>
<text x="899.0" y="277" font-family="Liberation Sans" font-size="8" text-anchor="middle" font-weight="bold" fill="#fff" stroke="#333" stroke-width="0.8">C</text>
<text x="904.8" y="277" font-family="Liberation Sans" font-size="8" text-anchor="middle" font-weight="bold" fill="#fff" stroke="#333" stroke-width="0.8">N</text>
<text x="910.6" y="277" font-family="Liberation Sans" font-size="8" text-anchor="middle" font-weight="bold" fill="#fff" stroke="#333" stroke-width="0.8">P</text>
<line x1="918.0" y1="274.0" x2="944.0" y2="274.0" stroke="#3a3a3a" stroke-width="5.2" stroke-dasharray="5.6 0.9"/>
<path d="M878.4,284.6 L881,280.8 L883.6,284.6 Z" fill="none" stroke="#333" stroke-width="0.9"/>
<line x1="885.5" y1="282.8" x2="942.0" y2="282.8" stroke="#3a3a3a" stroke-width="3.2" stroke-dasharray="1.9 0.9 1.4 0.8"/>
<line x1="885.5" y1="287.8" x2="933.3" y2="287.8" stroke="#3a3a3a" stroke-width="3.2" stroke-dasharray="1.9 0.9 1.4 0.8"/>
<path d="M878.4,294.8 L881,291 L883.6,294.8 Z" fill="none" stroke="#333" stroke-width="0.9"/>
<line x1="885.5" y1="293.0" x2="922.0" y2="293.0" stroke="#3a3a3a" stroke-width="3.2" stroke-dasharray="1.9 0.9 1.4 0.8"/>
<path d="M878.4,299.90000000000003 L881,296.1 L883.6,299.90000000000003 Z" fill="none" stroke="#333" stroke-width="0.9"/>
<line x1="885.5" y1="298.1" x2="936.0" y2="298.1" stroke="#3a3a3a" stroke-width="3.2" stroke-dasharray="1.9 0.9 1.4 0.8"/>
<path d="M878.4,304.5 L881,300.7 L883.6,304.5 Z" fill="none" stroke="#333" stroke-width="0.9"/>
<line x1="885.5" y1="302.7" x2="903.3" y2="302.7" stroke="#3a3a3a" stroke-width="3.2" stroke-dasharray="1.9 0.9 1.4 0.8"/>
<rect x="898.9" y="332.1" width="27.7" height="49.2" rx="0" fill="none" stroke="#2a2a2a" stroke-width="0.9"/>
<ellipse cx="908" cy="338.4" rx="2.4" ry="1.2" fill="none" stroke="#333" stroke-width="0.7"/>
<ellipse cx="916.8" cy="338.4" rx="2.4" ry="1.2" fill="none" stroke="#333" stroke-width="0.7"/>
<rect x="905.8" y="342.6" width="4.4" height="2.0" rx="0" fill="#444" stroke="#2a2a2a" stroke-width="0.3"/>
<rect x="914.6" y="342.6" width="4.4" height="2.0" rx="0" fill="#444" stroke="#2a2a2a" stroke-width="0.3"/>
<rect x="905.8" y="347.6" width="4.4" height="2.0" rx="0" fill="#444" stroke="#2a2a2a" stroke-width="0.3"/>
<rect x="914.6" y="347.6" width="4.4" height="2.0" rx="0" fill="#444" stroke="#2a2a2a" stroke-width="0.3"/>
<ellipse cx="908" cy="354" rx="2.4" ry="1.2" fill="none" stroke="#333" stroke-width="0.7"/>
<ellipse cx="916.8" cy="354" rx="2.4" ry="1.2" fill="none" stroke="#333" stroke-width="0.7"/>
<ellipse cx="908" cy="359" rx="2.4" ry="1.2" fill="none" stroke="#333" stroke-width="0.7"/>
<ellipse cx="916.8" cy="359" rx="2.4" ry="1.2" fill="none" stroke="#333" stroke-width="0.7"/>
<rect x="906.5" y="363.8" width="12.0" height="9.0" rx="0" fill="none" stroke="#2a2a2a" stroke-width="0.8"/>
<text x="912.5" y="371.8" font-family="Liberation Sans" font-size="9.5" text-anchor="middle" font-weight="bold" fill="#111" letter-spacing="-0.5">88</text>
<line x1="855.5" y1="411.2" x2="855.5" y2="440.0" stroke="#2a2a2a" stroke-width="0.9" />
<line x1="970.3" y1="411.2" x2="970.3" y2="440.0" stroke="#2a2a2a" stroke-width="0.9" />
<line x1="855.5" y1="434.3" x2="970.3" y2="434.3" stroke="#2a2a2a" stroke-width="0.9" />
<polygon points="855.5,434.3 863.5,432.6 863.5,436.0" fill="#111"/>
<polygon points="970.3,434.3 962.3,436.0 962.3,432.6" fill="#111"/>
<text x="915.4" y="428.9" font-family="Liberation Serif" font-size="15" text-anchor="middle" font-weight="normal" fill="#111" stroke="#111" stroke-width="0.35">186</text>
<text x="900" y="486" font-family="Liberation Serif" font-size="19" text-anchor="start" font-weight="normal" fill="#111" stroke="#111" stroke-width="0.5">K</text>
<path d="M925.9,469.5 L923.9,472.9 M917.9,487.9 L917.9,472.9 L932.1,472.9 L932.1,486.5 Q932.1,487.9 930.1999999999999,487.7 M921.6999999999999,484.9 L921.6999999999999,476.9 L928.3,476.9 L928.3,483.5 M921.6999999999999,483.5 L928.3,483.5" fill="none" stroke="#111" stroke-width="2.1"/>
<polyline points="902.0,535.0 955.0,488.8 1031.0,488.8" fill="none" stroke="#2a2a2a" stroke-width="0.9"/>
<polygon points="928.5,511.0 924.4,516.9 922.1,514.3" fill="#111"/>
<polygon points="908.0,529.0 912.1,523.1 914.4,525.7" fill="#111"/>
<line x1="910.0" y1="527.3" x2="926.5" y2="512.7" stroke="#2a2a2a" stroke-width="1.5" />
<text x="965.3" y="483" font-family="Liberation Serif" font-size="15" text-anchor="start" font-weight="normal" fill="#111" stroke="#111" stroke-width="0.2" textLength="37.5" lengthAdjust="spacingAndGlyphs">2-M16</text>
<path d="M1004.3199999999999,472.33 L1005.8499999999999,473.86 M1003.81,476.41 L1005.3399999999999,477.94 M1003.81,484.06 L1006.156,479.98 M1007.38,474.88 L1007.38,471.82 L1017.0699999999999,471.82 L1017.0699999999999,474.88 M1010.4399999999999,473.35 L1009.42,475.90000000000003 M1013.5,473.35 L1015.03,475.90000000000003 M1007.38,478.96000000000004 L1017.5799999999999,478.96000000000004 M1012.4799999999999,476.41 L1012.4799999999999,485.08000000000004 M1011.9699999999999,479.47 L1007.89,484.06 M1012.99,479.47 L1017.5799999999999,484.06" fill="none" stroke="#111" stroke-width="1.25"/>
<text x="1019" y="483" font-family="Liberation Serif" font-size="15" text-anchor="start" font-weight="normal" fill="#111" stroke="#111" stroke-width="0.2" textLength="12.3" lengthAdjust="spacingAndGlyphs">32</text>
<circle cx="918.7" cy="565.2" r="65.0" fill="none" stroke="#2a2a2a" stroke-width="0.9" />
<path d="M856.4,559.8 A62.5,62.5 0 0 1 981.0,559.8" fill="none" stroke="#2a2a2a" stroke-width="0.8"/>
<circle cx="918.7" cy="565.2" r="49.5" fill="none" stroke="#2a2a2a" stroke-width="0.9" />
<circle cx="918.7" cy="565.2" r="31.0" fill="none" stroke="#2a2a2a" stroke-width="0.9" />
<line x1="918.7" y1="495.0" x2="918.7" y2="637.0" stroke="#999" stroke-width="1.1" stroke-dasharray="17 5 2 5"/>
<line x1="800.0" y1="565.2" x2="1037.0" y2="565.2" stroke="#999" stroke-width="1.1" stroke-dasharray="17 5 2 5"/>
<rect x="1021.6" y="513.2" width="11.0" height="103.5" rx="1" fill="none" stroke="#2a2a2a" stroke-width="0.9"/>
<rect x="1032.6" y="532.1" width="2.1" height="66.3" rx="1" fill="none" stroke="#2a2a2a" stroke-width="0.9"/>
<line x1="975.2" y1="530.3" x2="1021.6" y2="530.3" stroke="#2a2a2a" stroke-width="0.9" />
<path d="M980.2,530.3 L1000.4,527.1" fill="none" stroke="#2a2a2a" stroke-width="0.9"/>
<rect x="1000.4" y="526.0" width="4.6" height="4.3" rx="0" fill="none" stroke="#2a2a2a" stroke-width="0.6"/>
<path d="M973.3,560.6 C990,552 1005,547 1021.6,544.8 L1021.6,585.8 C1000,590 985,600 960,618.6 L970,600 L973.8,575 Z" fill="#fff" stroke="#2a2a2a" stroke-width="0"/>
<path d="M973.3,560.6 C990,552 1005,547 1021.6,544.8" fill="none" stroke="#2a2a2a" stroke-width="0.9"/>
<path d="M960,618.6 C985,600 1000,590 1021.6,585.8" fill="none" stroke="#2a2a2a" stroke-width="0.9"/>
<path d="M984,601.6 L1000.4,601.6" fill="none" stroke="#2a2a2a" stroke-width="0.9"/>
<rect x="1000.4" y="590.0" width="4.6" height="11.6" rx="0" fill="none" stroke="#2a2a2a" stroke-width="0.6"/>
<path d="M973.8,562.4 L1018,562.4 Q1021.6,562 1021.6,558" fill="none" stroke="#2a2a2a" stroke-width="0.9"/>
<path d="M973.8,568.1 L1018,568.1 Q1021.6,568.5 1021.6,572" fill="none" stroke="#2a2a2a" stroke-width="0.9"/>
<path d="M815.5,536 Q817,542.4 823,542.4 L888.3,542.4 Q896,541 908.9,537.6 L908.9,592 Q896,589 889.7,588.2 L823,588.2 Q817,588.2 815.5,594 Z" fill="#fff" stroke="#2a2a2a" stroke-width="0.9"/>
<line x1="880.0" y1="539.7" x2="908.9" y2="537.6" stroke="#2a2a2a" stroke-width="0.7" />
<rect x="805.5" y="513.4" width="10.0" height="102.9" rx="1" fill="#fff" stroke="#2a2a2a" stroke-width="0.9"/>
<rect x="802.4" y="532.6" width="3.1" height="65.5" rx="1" fill="none" stroke="#2a2a2a" stroke-width="0.9"/>
<line x1="798.0" y1="565.2" x2="866.0" y2="565.2" stroke="#999" stroke-width="1.1" stroke-dasharray="17 5 2 5"/>
<line x1="974.0" y1="565.2" x2="1040.0" y2="565.2" stroke="#999" stroke-width="1.1" stroke-dasharray="17 5 2 5"/>
<path d="M908.8,550.4 L908.8,519.2 A9.95,9.95 0 0 1 928.7,519.2 L928.7,550.4 Q928.7,555.4 933.7,555.4 L963.8,555.4 A9.8,9.8 0 0 1 963.8,575 L933.7,575 Q928.7,575 928.7,580 L928.7,610.1 A9.95,9.95 0 0 1 908.8,610.1 L908.8,580 Q908.8,575 903.8,575 L872.8,575 A9.8,9.8 0 0 1 872.8,555.4 L903.8,555.4 Q908.8,555.4 908.8,550.4 Z" fill="#fff" stroke="#2a2a2a" stroke-width="0.9"/>
<line x1="918.7" y1="508.0" x2="918.7" y2="622.0" stroke="#999" stroke-width="1.1" stroke-dasharray="17 5 2 5"/>
<line x1="858.0" y1="565.2" x2="980.0" y2="565.2" stroke="#999" stroke-width="1.1" stroke-dasharray="17 5 2 5"/>
<circle cx="918.7" cy="519.2" r="4.2" fill="none" stroke="#2a2a2a" stroke-width="0.9" />
<circle cx="918.7" cy="610.1" r="4.2" fill="none" stroke="#2a2a2a" stroke-width="0.9" />
<line x1="908.8" y1="531.2" x2="928.7" y2="531.2" stroke="#2a2a2a" stroke-width="0.9" />
<line x1="908.8" y1="598.5" x2="928.7" y2="598.5" stroke="#999" stroke-width="1.4" />
<line x1="885.3" y1="556.0" x2="885.3" y2="574.5" stroke="#888" stroke-width="1.1" />
<line x1="952.6" y1="556.0" x2="952.6" y2="574.5" stroke="#2a2a2a" stroke-width="0.9" />
<line x1="928.7" y1="520.4" x2="1068.8" y2="520.4" stroke="#2a2a2a" stroke-width="0.9" />
<line x1="928.7" y1="610.1" x2="1068.8" y2="610.1" stroke="#2a2a2a" stroke-width="0.9" />
<line x1="1061.6" y1="520.4" x2="1061.6" y2="610.1" stroke="#2a2a2a" stroke-width="0.9" />
<polygon points="1061.6,520.4 1063.3,528.4 1059.9,528.4" fill="#111"/>
<polygon points="1061.6,610.1 1059.9,602.1 1063.3,602.1" fill="#111"/>
<text x="1058.3" y="565.6" font-family="Liberation Serif" font-size="15" text-anchor="middle" font-weight="normal" fill="#111" transform="rotate(-90 1058.3 565.6)" stroke="#111" stroke-width="0.3">144</text>
</svg></body></html>
